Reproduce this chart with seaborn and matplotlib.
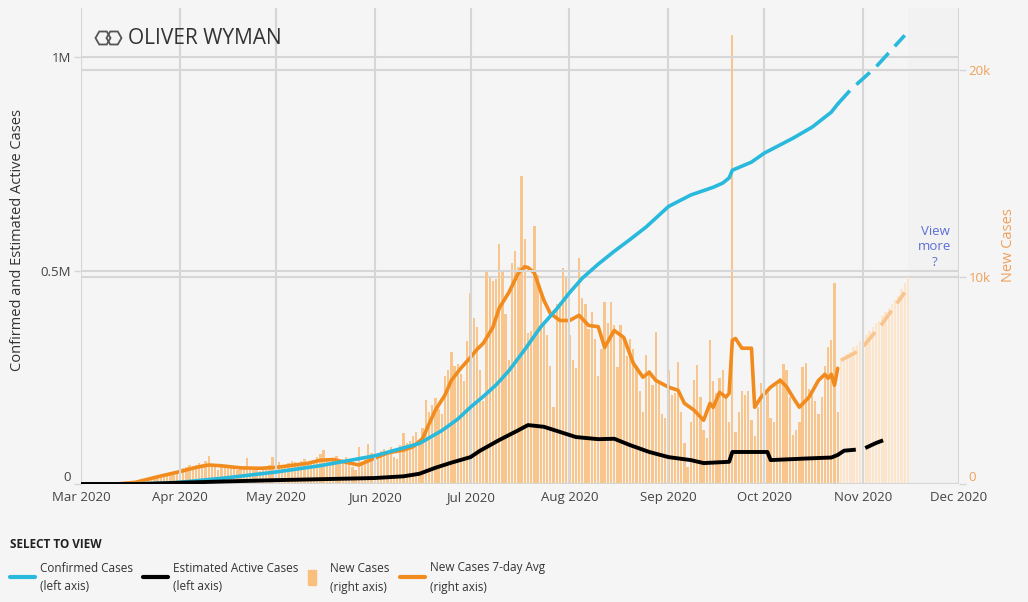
import matplotlib
matplotlib.use("Agg")
import matplotlib.pyplot as plt
import matplotlib.dates as mdates
from matplotlib import font_manager
from matplotlib.lines import Line2D
from matplotlib.patches import Rectangle, RegularPolygon
import pandas as pd
import seaborn as sns

# daily new cases, Mar 1 - Oct 24 (reported)
new_mar = [0, 0, 0, 0, 0, 0, 0, 0, 0, 0, 2, 5, 10, 15, 20, 30, 40, 60, 80, 100,
           150, 200, 250, 300, 350, 400, 450, 500, 550, 600, 650]
new_apr = [700, 750, 800, 900, 850, 900, 1000, 950, 1100, 1350, 900, 800, 700, 850, 900,
           850, 800, 750, 700, 800, 750, 1250, 800, 750, 700, 650, 800, 850, 900, 1300]
new_may = [1000, 1050, 900, 850, 1000, 1100, 1050, 1000, 1100, 1200, 900, 1000, 1150, 1300, 1450,
           1640, 1200, 1000, 1100, 1350, 1000, 1050, 1300, 1100, 800, 700, 1780, 1000, 1200, 1930, 1500]
new_jun = [1400, 1300, 1600, 1700, 1500, 1800, 1300, 1200, 1900, 2460, 2000, 2100, 2300, 2500, 1900,
           2700, 4050, 3500, 3800, 4150, 3600, 3400, 5200, 5500, 6360, 5700, 5800, 5300, 5000, 6900]
new_jul = [9250, 8000, 7570, 5500, 4000, 10300, 10000, 9800, 9900, 11600, 10300, 8200, 6000, 10700,
           11280, 10500, 14900, 11860, 7300, 7400, 12480, 10100, 9300, 7900, 7200, 5700, 3710, 8700,
           8800, 10460, 9970]
new_aug = [7200, 6000, 5600, 10940, 9000, 8700, 7500, 8300, 7000, 5200, 6500, 8770, 7800, 8770, 7700,
           5640, 7660, 7000, 6200, 7000, 6500, 5700, 4500, 3500, 6220, 5500, 4800, 7330, 5000, 3400, 3200]
new_sep = [5500, 4300, 4400, 5880, 3500, 2000, 820, 3000, 5010, 5730, 4200, 2600, 2200, 6940, 5000,
           4400, 5100, 5500, 4200, 3000, 21700, 2500, 3500, 4500, 4300, 4500, 3100, 2300, 3700, 4900]
new_oct = [5640, 4600, 3200, 3000, 4800, 5110, 5800, 5500, 4200, 2360, 2600, 3000, 5640, 5830, 4600,
           4300, 4000, 3400, 4200, 5700, 6600, 6940, 9690, 3470]
# projected new cases, Oct 25 - Nov 15
new_proj = [6000, 6100, 6300, 6400, 6600, 6700, 6900, 7100, 7200, 7400, 7600, 7800, 7900, 8100,
            8300, 8500, 8700, 8900, 9100, 9400, 9700, 10000]

avg_dates = ["2020-03-01", "2020-03-12", "2020-03-18", "2020-03-25", "2020-04-01", "2020-04-06",
             "2020-04-10", "2020-04-14", "2020-04-20", "2020-04-26", "2020-05-01", "2020-05-06",
             "2020-05-11", "2020-05-15", "2020-05-19", "2020-05-23", "2020-05-27", "2020-06-01",
             "2020-06-05", "2020-06-10", "2020-06-13", "2020-06-16", "2020-06-18", "2020-06-20",
             "2020-06-23", "2020-06-25", "2020-06-28", "2020-07-01", "2020-07-03", "2020-07-05",
             "2020-07-08", "2020-07-10", "2020-07-13", "2020-07-16", "2020-07-18", "2020-07-19",
             "2020-07-21", "2020-07-23", "2020-07-24", "2020-07-26", "2020-07-29", "2020-08-01",
             "2020-08-04", "2020-08-07", "2020-08-10", "2020-08-12", "2020-08-15", "2020-08-18",
             "2020-08-21", "2020-08-24", "2020-08-26", "2020-08-28", "2020-09-01", "2020-09-04",
             "2020-09-06", "2020-09-09", "2020-09-12", "2020-09-14", "2020-09-15", "2020-09-17",
             "2020-09-19", "2020-09-20", "2020-09-21", "2020-09-22", "2020-09-24", "2020-09-27",
             "2020-09-28", "2020-09-30", "2020-10-03", "2020-10-06", "2020-10-08", "2020-10-10",
             "2020-10-12", "2020-10-15", "2020-10-18", "2020-10-20", "2020-10-21", "2020-10-22",
             "2020-10-23", "2020-10-24"]
avg_vals = [0, 0, 80, 350, 600, 800, 920, 880, 780, 760, 800, 900, 1000, 1150, 1180, 1050, 920, 1250,
            1500, 1640, 1800, 2200, 2900, 3570, 4300, 5010, 5600, 6120, 6500, 6800, 7570, 8500,
            9250, 10200, 10500, 10460, 10200, 9300, 8870, 8240, 7900, 7900, 8150, 7660, 7600, 6600,
            7420, 7080, 5830, 5160, 5400, 5010, 4680, 4530, 3900, 3570, 3080, 3900, 3700, 4430, 4200,
            4380, 6940, 7030, 6560, 6560, 3710, 4190, 4680, 5010, 4700, 4190, 3710, 4190, 5010, 5300,
            5110, 5300, 4770, 5590]
avg_proj_dates = ["2020-10-25", "2020-10-31", "2020-11-07", "2020-11-14"]
avg_proj_vals = [5980, 6460, 7760, 9250]

conf_dates = ["2020-03-01", "2020-03-15", "2020-03-25", "2020-04-01", "2020-04-15", "2020-05-01",
              "2020-05-15", "2020-06-01", "2020-06-15", "2020-06-22", "2020-06-27", "2020-07-01",
              "2020-07-05", "2020-07-09", "2020-07-13", "2020-07-18", "2020-07-23", "2020-07-28",
              "2020-08-01", "2020-08-05", "2020-08-10", "2020-08-15", "2020-08-20", "2020-08-25",
              "2020-09-01", "2020-09-08", "2020-09-15", "2020-09-18", "2020-09-20", "2020-09-21",
              "2020-09-27", "2020-10-01", "2020-10-10", "2020-10-16", "2020-10-22", "2020-10-24"]
conf_vals = [0, 100, 1500, 4000, 14000, 28000, 43000, 66000, 95000, 125000, 152000, 180000, 205000,
             232000, 265000, 315000, 368000, 410000, 448000, 482000, 515000, 545000, 573000, 602000,
             650000, 677000, 695000, 705000, 717000, 735000, 754000, 775000, 810000, 836000, 871000,
             890000]
conf_proj_dates = ["2020-10-24", "2020-10-28", "2020-11-05", "2020-11-14"]
conf_proj_vals = [890000, 923000, 977000, 1051000]

act_dates = ["2020-03-01", "2020-03-20", "2020-04-01", "2020-04-15", "2020-05-01", "2020-06-01",
             "2020-06-10", "2020-06-15", "2020-06-20", "2020-06-25", "2020-07-01", "2020-07-04",
             "2020-07-10", "2020-07-16", "2020-07-19", "2020-07-24", "2020-07-29", "2020-08-03",
             "2020-08-10", "2020-08-15", "2020-08-20", "2020-08-26", "2020-09-01", "2020-09-08",
             "2020-09-12", "2020-09-20", "2020-09-21", "2020-10-02", "2020-10-03", "2020-10-15",
             "2020-10-22", "2020-10-24"]
act_vals = [0, 0, 3000, 6000, 9000, 14000, 18000, 24000, 38000, 50000, 63000, 78000, 103000, 126000,
            138000, 134000, 122000, 110000, 105000, 106000, 91000, 75000, 63000, 56000, 49000, 52000,
            75000, 75000, 56000, 60000, 62000, 68000]
act_proj_dates = ["2020-10-24", "2020-10-26", "2020-11-01", "2020-11-05", "2020-11-10"]
act_proj_vals = [68000, 78000, 82000, 96000, 110000]

new_cases = new_mar + new_apr + new_may + new_jun + new_jul + new_aug + new_sep + new_oct
new_dates = pd.date_range("2020-03-01", periods=len(new_cases), freq="D")
proj_dates = pd.date_range(new_dates[-1] + pd.Timedelta(days=1), periods=len(new_proj), freq="D")

month_ticks = pd.date_range("2020-03-01", "2020-12-01", freq="MS")

sns.set_theme(style="white")
fonts = font_manager.fontManager.ttflist
names = {f.name for f in fonts}
base_font = "Open Sans" if "Open Sans" in names else "DejaVu Sans"
plt.rcParams["font.family"] = [base_font, "DejaVu Sans"]

BG = "#f5f5f5"
CYAN = "#29b9dc"
ORANGE = "#f28b1e"
BAR = "#f8c68d"
BAR_PROJ = "#fce5cb"
TXT = "#444444"
GRID = "#d6d6d6"

W, H = 1028, 602
fig = plt.figure(figsize=(W / 100, H / 100), dpi=100, facecolor=BG)
ax = fig.add_axes([81 / W, 1 - 484 / H, (959 - 81) / W, (484 - 8) / H])
ax2 = ax.twinx()
ax.set_zorder(2)
ax2.set_zorder(1)
ax.patch.set_visible(False)
ax2.patch.set_facecolor("white")

# greyed out area past the forecast
ax2.axvspan(pd.Timestamp("2020-11-15"), pd.Timestamp("2020-12-01"), color="#f2f2f2", zorder=0, lw=0)

# bars + 7-day avg on right axis
ax2.bar(new_dates, new_cases, width=0.72, color=BAR, linewidth=0, zorder=2)
ax2.bar(proj_dates, new_proj, width=0.72, color=BAR_PROJ, linewidth=0, zorder=2)
sns.lineplot(x=pd.to_datetime(avg_dates), y=avg_vals, ax=ax2, color=ORANGE, lw=2.6, zorder=3)
sns.lineplot(x=pd.to_datetime(avg_proj_dates), y=avg_proj_vals, ax=ax2, color="#f8c58e", lw=2.6,
             linestyle=(0, (5, 2.5)), zorder=3)

# cumulative lines on left axis
sns.lineplot(x=pd.to_datetime(conf_dates), y=conf_vals, ax=ax, color=CYAN, lw=2.6, zorder=4)
sns.lineplot(x=pd.to_datetime(conf_proj_dates), y=conf_proj_vals, ax=ax, color=CYAN, lw=2.6,
             linestyle=(0, (5, 2.5)), zorder=4)
sns.lineplot(x=pd.to_datetime(act_dates), y=act_vals, ax=ax, color="black", lw=2.8, zorder=4)
sns.lineplot(x=pd.to_datetime(act_proj_dates), y=act_proj_vals, ax=ax, color="black", lw=2.8,
             linestyle=(0, (5, 2.5)), zorder=4)

ax.set_xlim(pd.Timestamp("2020-03-01"), pd.Timestamp("2020-12-01"))
ax.set_ylim(0, 1.115e6)
ax2.set_ylim(0, 23000)

ax.set_xticks(month_ticks)
ax.xaxis.set_major_formatter(mdates.DateFormatter("%b %Y"))
ax.set_yticks([0, 5e5, 1e6])
ax.set_yticklabels(["0", "0.5M", "1M"])
ax2.set_yticks([0, 10000, 20000])
ax2.set_yticklabels(["0", "10k", "20k"])

ax.set_axisbelow(True)
ax.grid(True, axis="both", color=GRID, lw=1.5, zorder=0)
ax2.grid(True, axis="y", color=GRID, lw=1.5)
ax2.grid(False, axis="x")

for a in (ax, ax2):
    for s in a.spines.values():
        s.set_visible(False)
    a.set_xlabel("")
    a.set_ylabel("")
ax.tick_params(axis="x", colors=TXT, labelsize=9.5, length=0, pad=5)
ax.tick_params(axis="y", colors=GRID, labelcolor=TXT, labelsize=9.5, length=5, width=1, pad=2)
ax2.tick_params(axis="y", colors=GRID, labelcolor="#f0a05a", labelsize=9.5, length=5, width=1, pad=2)
ax2.tick_params(axis="x", length=0)
# the zero labels sit just above the baseline, as in the original
ax.get_yticklabels()[0].set_va("bottom")
ax2.get_yticklabels()[0].set_va("bottom")

fig.text(18 / W, 1 - 240 / H, "Confirmed and Estimated Active Cases", rotation=90, ha="center",
         va="center", fontsize=10.5, color="#333333")
fig.text(1008 / W, 1 - 245 / H, "New Cases", rotation=90, ha="center", va="center",
         fontsize=10.5, color="#f0a05a")
fig.text(935 / W, 1 - 247 / H, "View\nmore\n?", ha="center", va="center", fontsize=9.5,
         color="#5b6fd6", linespacing=1.25)

# logo
for cx in (103, 114):
    fig.add_artist(RegularPolygon((cx / 100, (H - 38) / 100), numVertices=6, radius=0.075,
                                  orientation=0.5236, transform=fig.dpi_scale_trans,
                                  fill=False, ec="#555555", lw=1.3))
fig.text(128 / W, 1 - 38 / H, "OLIVER WYMAN", ha="left", va="center", fontsize=15,
         color="#333333")

# legend: entries start at the original x positions, pushed right only if the text needs room
fig.text(10 / W, 1 - 545 / H, "SELECT TO VIEW", ha="left", va="center", fontsize=8.5,
         fontweight="bold", color="#222222")
entries = [
    ("line", CYAN, 10, "Confirmed Cases", "(left axis)"),
    ("line", "black", 128, "Estimated Active Cases", "(left axis)"),
    ("box", "#f8c07c", 285, "New Cases", "(right axis)"),
    ("line", ORANGE, 367, "New Cases 7-day Avg", "(right axis)"),
]
renderer = fig.canvas.get_renderer()
cursor = 0
for kind, col, x0, l1, l2 in entries:
    x0 = max(x0, cursor + 10)
    if kind == "line":
        fig.add_artist(Line2D([x0 / W, (x0 + 25) / W], [1 - 577 / H, 1 - 577 / H], color=col, lw=3,
                              transform=fig.transFigure))
        tx = x0 + 30
    else:
        fig.add_artist(Rectangle((x0 / W, 1 - 585 / H), 8 / W, 15 / H, color=col,
                                 transform=fig.transFigure))
        tx = x0 + 22
    right = tx
    for ty, s in ((568, l1), (587, l2)):
        t = fig.text(tx / W, 1 - ty / H, s, ha="left", va="center", fontsize=8.5, color="#333333")
        right = max(right, t.get_window_extent(renderer).x1)
    cursor = right

fig.savefig("out.png", dpi=100, facecolor=BG)
